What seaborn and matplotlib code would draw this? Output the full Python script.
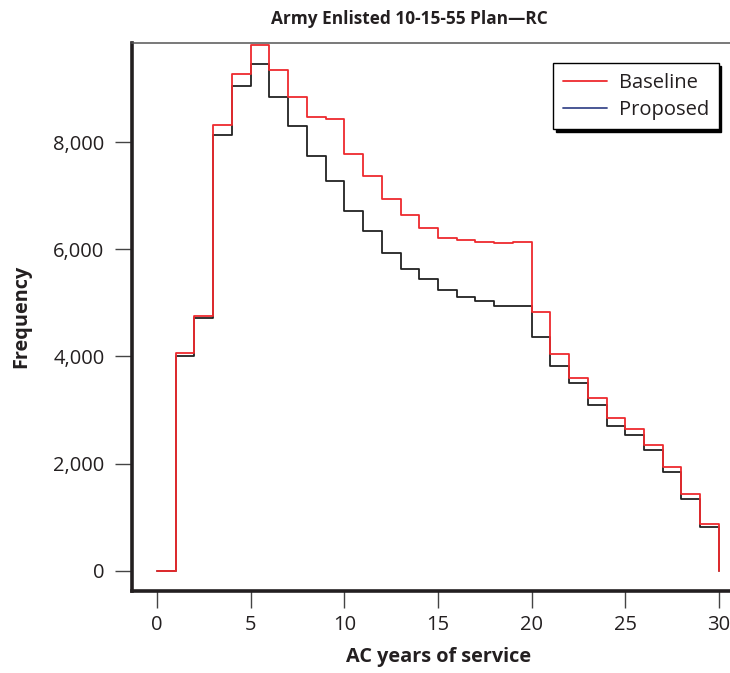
import matplotlib
matplotlib.use('Agg')
import pandas as pd
import matplotlib.pyplot as plt
from matplotlib.lines import Line2D
from matplotlib.ticker import FuncFormatter
import seaborn as sns

# frequency by AC years of service (0..30)
years = list(range(31))
baseline = [0, 4059, 4761, 8317, 9262, 9815, 9343, 8839, 8472, 8435,
            7771, 7360, 6937, 6630, 6400, 6204, 6167, 6141, 6116, 6135,
            4824, 4050, 3605, 3232, 2859, 2642, 2356, 1945, 1436, 871, 0]
proposed = [0, 4009, 4712, 8131, 9044, 9460, 8839, 8298, 7733, 7279,
            6713, 6340, 5936, 5626, 5439, 5234, 5116, 5035, 4936, 4936,
            4370, 3829, 3500, 3101, 2710, 2530, 2251, 1840, 1348, 815, 0]
plans = ['Baseline', 'Proposed']
xticks = [0, 5, 10, 15, 20, 25, 30]
yticks = [0, 2000, 4000, 6000, 8000]

df = pd.DataFrame({
    'Year': years * 2,
    'Frequency': baseline + proposed,
    'Plan': [plans[0]] * len(years) + [plans[1]] * len(years),
})

sns.set_theme(style='ticks')
plt.rcParams['font.family'] = ['Open Sans', 'DejaVu Sans']

red = '#ee2a2e'
dark = '#231f20'

fig = plt.figure(figsize=(7.3, 6.73), dpi=100)
W, H = 730.0, 673.0
ax = fig.add_axes([131.7 / W, 1 - 590.5 / H, (745 - 131.7) / W, (590.5 - 42.7) / H])

sns.lineplot(data=df, x='Year', y='Frequency', hue='Plan',
             hue_order=['Proposed', 'Baseline'],
             palette={'Proposed': '#222222', 'Baseline': red},
             drawstyle='steps-post', lw=1.3, errorbar=None, legend=False, ax=ax)

ax.set_xlim(-1.35, 31.39)
ax.set_ylim(-364, 9852)
ax.set_xticks(xticks)
ax.set_yticks(yticks)
ax.yaxis.set_major_formatter(FuncFormatter(lambda v, p: f'{int(v):,}'))

ax.spines['right'].set_visible(False)
ax.spines['top'].set_linewidth(1.1)
ax.spines['top'].set_color('#555555')
for s in ['left', 'bottom']:
    ax.spines[s].set_linewidth(2.6)
    ax.spines[s].set_color(dark)

ax.tick_params(axis='both', direction='out', length=12.5, width=1, color='#444444',
               labelsize=14.5, labelcolor=dark)
ax.tick_params(axis='y', pad=7)
ax.tick_params(axis='x', pad=5)

ax.set_xlabel('AC years of service', fontsize=14.3, fontweight='bold', color=dark, labelpad=9)
ax.set_ylabel('Frequency', fontsize=14.3, fontweight='bold', color=dark, labelpad=16)

fig.text(409 / W, 1 - 19 / H, 'Army Enlisted 10-15-55 Plan\u2014RC', ha='center', va='center',
         fontsize=12.4, fontweight='bold', color=dark)

handles = [Line2D([], [], color=red, lw=1.3, label='Baseline'),
           Line2D([], [], color='#3b4a8c', lw=1.3, label='Proposed')]
leg = ax.legend(handles=handles, loc='upper right',
                bbox_to_anchor=(718.7 / W, 1 - 63.3 / H), bbox_transform=fig.transFigure,
                borderaxespad=0, fancybox=False, shadow={'color': 'black', 'alpha': 1},
                edgecolor='black', framealpha=1, fontsize=14.5,
                handlelength=2.2, handletextpad=0.6, labelspacing=0.36, borderpad=0.47)
leg.get_frame().set_linewidth(1.0)
for t in leg.get_texts():
    t.set_color(dark)

fig.savefig('out.png', dpi=100)
